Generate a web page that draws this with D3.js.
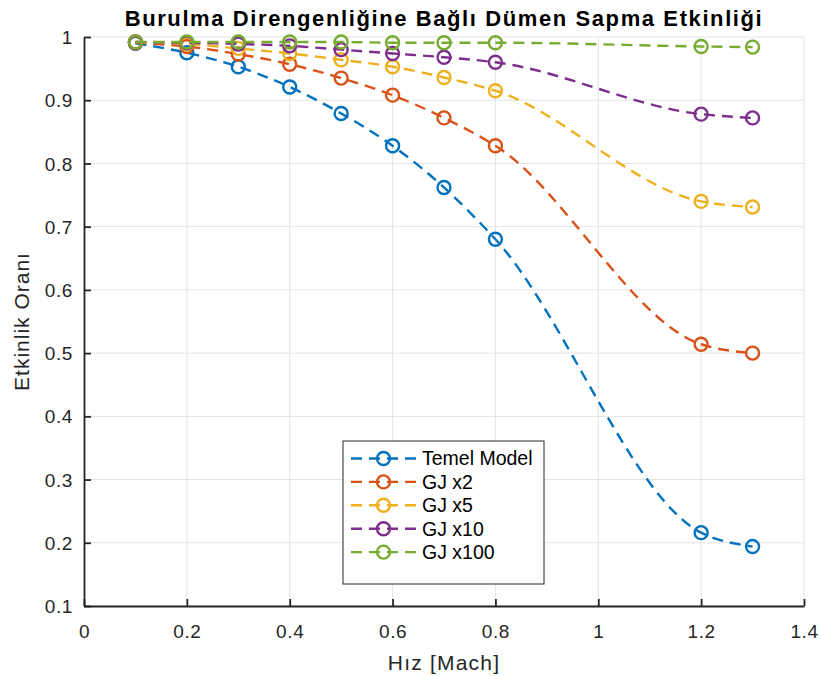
<!DOCTYPE html>
<html>
<head>
<meta charset="utf-8">
<script src="https://cdn.jsdelivr.net/npm/d3@7"></script>
<style>
  body { margin: 0; background: #fff; }
  svg { display: block; font-family: "Liberation Sans", Arial, sans-serif; }
</style>
</head>
<body>
<svg id="chart" width="821" height="676"></svg>
<script>
// data
const mach = [0.1, 0.2, 0.3, 0.4, 0.5, 0.6, 0.7, 0.8, 1.2, 1.3];
const temelModel = [0.990, 0.975, 0.953, 0.921, 0.879, 0.828, 0.762, 0.680, 0.216, 0.194];
const gjX2 = [0.991, 0.985, 0.973, 0.957, 0.935, 0.908, 0.872, 0.828, 0.514, 0.500];
const gjX5 = [0.992, 0.989, 0.982, 0.974, 0.964, 0.953, 0.936, 0.915, 0.740, 0.731];
const gjX10 = [0.992, 0.991, 0.989, 0.986, 0.980, 0.974, 0.968, 0.960, 0.878, 0.872];
const gjX100 = [0.992, 0.992, 0.992, 0.992, 0.992, 0.991, 0.991, 0.991, 0.985, 0.984];

const seriesNames = ["Temel Model", "GJ x2", "GJ x5", "GJ x10", "GJ x100"];
const seriesColors = ["#0072BD", "#D95319", "#EDB120", "#7E2F8E", "#77AC30"];
const seriesValues = [temelModel, gjX2, gjX5, gjX10, gjX100];

const xTicks = [0, 0.2, 0.4, 0.6, 0.8, 1, 1.2, 1.4];
const yTicks = [0.1, 0.2, 0.3, 0.4, 0.5, 0.6, 0.7, 0.8, 0.9, 1];

// plot box
const margin = { top: 37, right: 17, bottom: 70, left: 84 };
const width = 821 - margin.left - margin.right;
const height = 676 - margin.top - margin.bottom;
const axisColor = "#262626";

const svg = d3.select("#chart");
const g = svg.append("g")
    .attr("transform", `translate(${margin.left},${margin.top})`);

const x = d3.scaleLinear().domain([0, 1.4]).range([0, width]);
const y = d3.scaleLinear().domain([0.1, 1]).range([height, 0]);

// grid
g.append("g")
    .selectAll("line")
    .data(xTicks)
    .enter()
    .append("line")
    .attr("x1", d => x(d)).attr("x2", d => x(d))
    .attr("y1", 0).attr("y2", height)
    .attr("stroke", "#e3e3e3").attr("stroke-width", 1);

g.append("g")
    .selectAll("line")
    .data(yTicks)
    .enter()
    .append("line")
    .attr("x1", 0).attr("x2", width)
    .attr("y1", d => y(d)).attr("y2", d => y(d))
    .attr("stroke", "#e3e3e3").attr("stroke-width", 1);

// series
const line = d3.line()
    .x(d => x(d[0]))
    .y(d => y(d[1]))
    .curve(d3.curveMonotoneX);

seriesValues.forEach((vals, i) => {
    const pts = mach.map((m, j) => [m, vals[j]]);
    const sg = g.append("g").attr("class", "series");
    sg.append("path")
        .datum(pts)
        .attr("d", line)
        .attr("fill", "none")
        .attr("stroke", seriesColors[i])
        .attr("stroke-width", 2.4)
        .attr("stroke-dasharray", "11,7");
    sg.selectAll("circle")
        .data(pts)
        .enter()
        .append("circle")
        .attr("cx", d => x(d[0]))
        .attr("cy", d => y(d[1]))
        .attr("r", 6.5)
        .attr("fill", "none")
        .attr("stroke", seriesColors[i])
        .attr("stroke-width", 2.4);
});

// axes
const xAxis = g.append("g")
    .attr("transform", `translate(0,${height})`)
    .call(d3.axisBottom(x).tickValues(xTicks).tickSizeInner(-7).tickSizeOuter(0).tickPadding(19)
        .tickFormat(d => d3.format("~g")(d)));

const yAxis = g.append("g")
    .call(d3.axisLeft(y).tickValues(yTicks).tickSizeInner(-7).tickSizeOuter(0).tickPadding(11)
        .tickFormat(d => d3.format("~g")(d)));

[xAxis, yAxis].forEach(a => {
    a.select(".domain").attr("stroke", axisColor).attr("stroke-width", 1.8);
    a.selectAll(".tick line").attr("stroke", axisColor).attr("stroke-width", 1.8);
    a.selectAll(".tick text")
        .attr("fill", axisColor)
        .attr("font-size", "19px")
        .attr("letter-spacing", "0.6px")
        .attr("font-family", "'Liberation Sans', Arial, sans-serif");
});
yAxis.selectAll(".tick text").attr("dy", "0.35em");

// title and labels
svg.append("text")
    .attr("x", margin.left + width / 2)
    .attr("y", 26)
    .attr("text-anchor", "middle")
    .attr("font-size", "22px")
    .attr("font-weight", "bold")
    .attr("letter-spacing", "1.6px")
    .attr("fill", "#000")
    .text("Burulma Direngenliğine Bağlı Dümen Sapma Etkinliği");

svg.append("text")
    .attr("x", margin.left + width / 2)
    .attr("y", 670)
    .attr("text-anchor", "middle")
    .attr("font-size", "21px")
    .attr("letter-spacing", "1.2px")
    .attr("fill", axisColor)
    .text("Hız [Mach]");

svg.append("text")
    .attr("transform", `translate(29,${margin.top + height / 2}) rotate(-90)`)
    .attr("text-anchor", "middle")
    .attr("font-size", "21px")
    .attr("letter-spacing", "1px")
    .attr("fill", axisColor)
    .text("Etkinlik Oranı");

// legend
const legend = svg.append("g")
    .attr("class", "legend")
    .attr("transform", "translate(343,441)");

legend.append("rect")
    .attr("width", 201)
    .attr("height", 143)
    .attr("fill", "#fff")
    .attr("stroke", axisColor)
    .attr("stroke-width", 1);

seriesNames.forEach((name, i) => {
    const item = legend.append("g")
        .attr("transform", `translate(0, ${17.5 + i * 23.4})`);
    item.append("line")
        .attr("x1", 8).attr("x2", 73)
        .attr("stroke", seriesColors[i])
        .attr("stroke-width", 2.4)
        .attr("stroke-dasharray", "11,7");
    item.append("circle")
        .attr("cx", 40.5)
        .attr("r", 6.5)
        .attr("fill", "none")
        .attr("stroke", seriesColors[i])
        .attr("stroke-width", 2.4);
    item.append("text")
        .attr("x", 79)
        .attr("y", 0)
        .attr("dy", "0.35em")
        .attr("font-size", "19.5px")
        .attr("fill", "#000")
        .text(name);
});
</script>
</body>
</html>
